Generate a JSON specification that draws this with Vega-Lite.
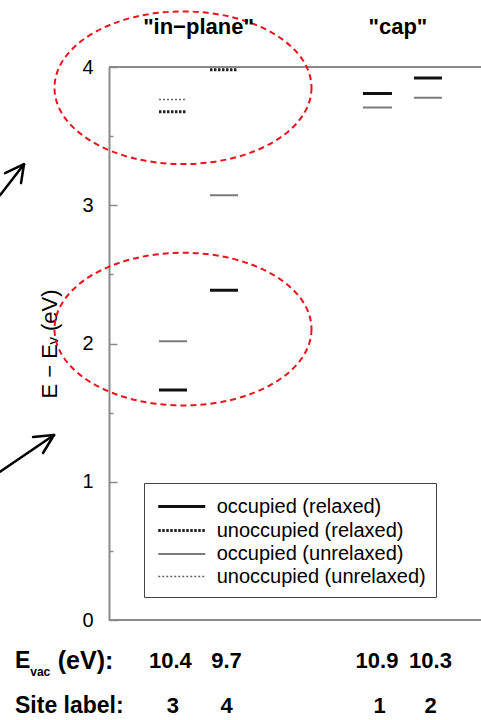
{
  "$schema": "https://vega.github.io/schema/vega-lite/v6.json",
  "width": 372,
  "height": 553,
  "autosize": {"type": "none"},
  "padding": {"left": 109, "top": 67, "right": 0, "bottom": 100},
  "background": "white",
  "config": {"view": {"stroke": null}, "font": "Liberation Sans"},
  "datasets": {
    "levels": [
      {"site": "3", "x1": 0.725, "x2": 1.275, "y": 3.765, "state": "unoccupied (unrelaxed)"},
      {"site": "3", "x1": 0.725, "x2": 1.275, "y": 3.676, "state": "unoccupied (relaxed)"},
      {"site": "3", "x1": 0.725, "x2": 1.275, "y": 2.017, "state": "occupied (unrelaxed)"},
      {"site": "3", "x1": 0.725, "x2": 1.275, "y": 1.663, "state": "occupied (relaxed)"},
      {"site": "4", "x1": 1.725, "x2": 2.275, "y": 3.98, "state": "unoccupied (relaxed)"},
      {"site": "4", "x1": 1.725, "x2": 2.275, "y": 3.073, "state": "occupied (unrelaxed)"},
      {"site": "4", "x1": 1.725, "x2": 2.275, "y": 2.386, "state": "occupied (relaxed)"},
      {"site": "1", "x1": 4.725, "x2": 5.294, "y": 3.808, "state": "occupied (relaxed)"},
      {"site": "1", "x1": 4.725, "x2": 5.294, "y": 3.707, "state": "occupied (unrelaxed)"},
      {"site": "2", "x1": 5.725, "x2": 6.275, "y": 3.921, "state": "occupied (relaxed)"},
      {"site": "2", "x1": 5.725, "x2": 6.275, "y": 3.777, "state": "occupied (unrelaxed)"}
    ],
    "frame": [{"y": 0}, {"y": 4}],
    "ellipses": [{"x": 1.196, "y": 3.85}, {"x": 1.196, "y": 2.104}],
    "arrows": [
      {"x": -2.392, "y": 3.073, "x2": -1.922, "y2": 3.297},
      {"x": -2.294, "y": 3.232, "x2": -1.922, "y2": 3.297},
      {"x": -1.98, "y": 3.16, "x2": -1.922, "y2": 3.297},
      {"x": -2.431, "y": 1.063, "x2": -1.333, "y2": 1.338},
      {"x": -1.745, "y": 1.323, "x2": -1.333, "y2": 1.338},
      {"x": -1.549, "y": 1.208, "x2": -1.333, "y2": 1.338}
    ],
    "centered": [
      {"text": "\"in−plane\"", "x": 1.5, "y": 4.288},
      {"text": "\"cap\"", "x": 5.41, "y": 4.288},
      {"text": "10.4", "x": 0.95, "y": -0.295},
      {"text": "9.7", "x": 2.05, "y": -0.295},
      {"text": "10.9", "x": 5.0, "y": -0.295},
      {"text": "10.3", "x": 6.05, "y": -0.295},
      {"text": "3", "x": 1.0, "y": -0.622},
      {"text": "4", "x": 2.05, "y": -0.622},
      {"text": "1", "x": 5.05, "y": -0.622},
      {"text": "2", "x": 6.05, "y": -0.622}
    ],
    "rowheads": [
      {"text": "E", "x": -2.098, "y": -0.295},
      {"text": "Site label:", "x": -2.098, "y": -0.622}
    ],
    "units": [{"text": "(eV):", "x": -1.26, "y": -0.3}],
    "subs": [{"text": "vac", "x": -1.8, "y": -0.375}]
  },
  "layer": [
    {
      "data": {"name": "frame"},
      "mark": {"type": "rule", "color": "#8a8a8a", "strokeWidth": 2},
      "encoding": {
        "y": {"field": "y", "type": "quantitative", "scale": {"domain": [0, 4], "nice": false, "zero": false},
          "axis": {
            "title": "E − Eᵥ (eV)",
            "titleFont": "Liberation Sans", "titleFontSize": 22, "titleFontWeight": "normal", "titleColor": "black",
            "titlePadding": 20,
            "values": [0, 0.5, 1, 1.5, 2, 2.5, 3, 3.5, 4],
            "labelExpr": "datum.value % 1 === 0 ? format(datum.value, 'd') : ''",
            "labelFont": "Liberation Sans", "labelFontSize": 20, "labelColor": "black", "labelPadding": 24,
            "domainColor": "#8a8a8a", "domainWidth": 2,
            "tickColor": "#8a8a8a", "tickWidth": 1.5,
            "tickSize": {"condition": {"test": "datum.value % 1 !== 0", "value": -4}, "value": -8},
            "grid": false
          }
        }
      }
    },
    {
      "data": {"name": "levels"},
      "mark": {"type": "rule"},
      "encoding": {
        "x": {"field": "x1", "type": "quantitative", "scale": {"domain": [-0.255, 7.04], "nice": false, "zero": false}, "axis": null},
        "x2": {"field": "x2"},
        "y": {"field": "y", "type": "quantitative"},
        "color": {"field": "state", "type": "nominal",
          "scale": {"domain": ["occupied (relaxed)", "unoccupied (relaxed)", "occupied (unrelaxed)", "unoccupied (unrelaxed)"],
                    "range": ["#111111", "#222222", "#7a7a7a", "#666666"]},
          "legend": {"title": null, "orient": "none", "legendX": 35, "legendY": 416,
            "symbolType": "M -2 0 L 2 0", "symbolSize": 552, "labelFontSize": 20, "labelFont": "Liberation Sans",
            "labelColor": "black", "labelLimit": 0, "strokeColor": "#444444", "fillColor": "white", "padding": 10,
            "symbolOffset": 14.25, "labelOffset": 21.5, "rowPadding": 0}},
        "strokeDash": {"field": "state", "type": "nominal",
          "scale": {"domain": ["occupied (relaxed)", "unoccupied (relaxed)", "occupied (unrelaxed)", "unoccupied (unrelaxed)"],
                    "range": [[1, 0], [2.5, 1.5], [1, 0], [2, 2]]}},
        "strokeWidth": {"field": "state", "type": "nominal",
          "scale": {"type": "ordinal", "domain": ["occupied (relaxed)", "unoccupied (relaxed)", "occupied (unrelaxed)", "unoccupied (unrelaxed)"],
                    "range": [3, 3, 2, 1.5]}}
      }
    },
    {
      "data": {"name": "ellipses"},
      "mark": {"type": "point", "shape": "M 1 0 C 1 0.328 0.5523 0.594 0 0.594 C -0.5523 0.594 -1 0.328 -1 0 C -1 -0.328 -0.5523 -0.594 0 -0.594 C 0.5523 -0.594 1 -0.328 1 0 Z",
        "size": 66049, "filled": false, "stroke": "#e8141c", "strokeWidth": 2, "strokeDash": [6, 4], "opacity": 1},
      "encoding": {
        "x": {"field": "x", "type": "quantitative"},
        "y": {"field": "y", "type": "quantitative"}
      }
    },
    {
      "data": {"name": "arrows"},
      "mark": {"type": "rule", "color": "black", "strokeWidth": 2.5, "strokeCap": "round"},
      "encoding": {
        "x": {"field": "x", "type": "quantitative"},
        "y": {"field": "y", "type": "quantitative"},
        "x2": {"field": "x2"},
        "y2": {"field": "y2"}
      }
    },
    {
      "data": {"name": "centered"},
      "mark": {"type": "text", "font": "Liberation Sans", "fontWeight": "bold", "fontSize": 22, "align": "center", "baseline": "middle", "color": "black"},
      "encoding": {
        "x": {"field": "x", "type": "quantitative"},
        "y": {"field": "y", "type": "quantitative"},
        "text": {"field": "text"}
      }
    },
    {
      "data": {"name": "rowheads"},
      "mark": {"type": "text", "font": "Liberation Sans", "fontWeight": "bold", "fontSize": 23, "align": "left", "baseline": "middle", "color": "black"},
      "encoding": {
        "x": {"field": "x", "type": "quantitative"},
        "y": {"field": "y", "type": "quantitative"},
        "text": {"field": "text"}
      }
    },
    {
      "data": {"name": "units"},
      "mark": {"type": "text", "font": "Liberation Sans", "fontWeight": "bold", "fontSize": 25, "align": "left", "baseline": "middle", "color": "black"},
      "encoding": {
        "x": {"field": "x", "type": "quantitative"},
        "y": {"field": "y", "type": "quantitative"},
        "text": {"field": "text"}
      }
    },
    {
      "data": {"name": "subs"},
      "mark": {"type": "text", "font": "Liberation Sans", "fontWeight": "bold", "fontSize": 12, "align": "left", "baseline": "middle", "color": "black"},
      "encoding": {
        "x": {"field": "x", "type": "quantitative"},
        "y": {"field": "y", "type": "quantitative"},
        "text": {"field": "text"}
      }
    }
  ]
}
